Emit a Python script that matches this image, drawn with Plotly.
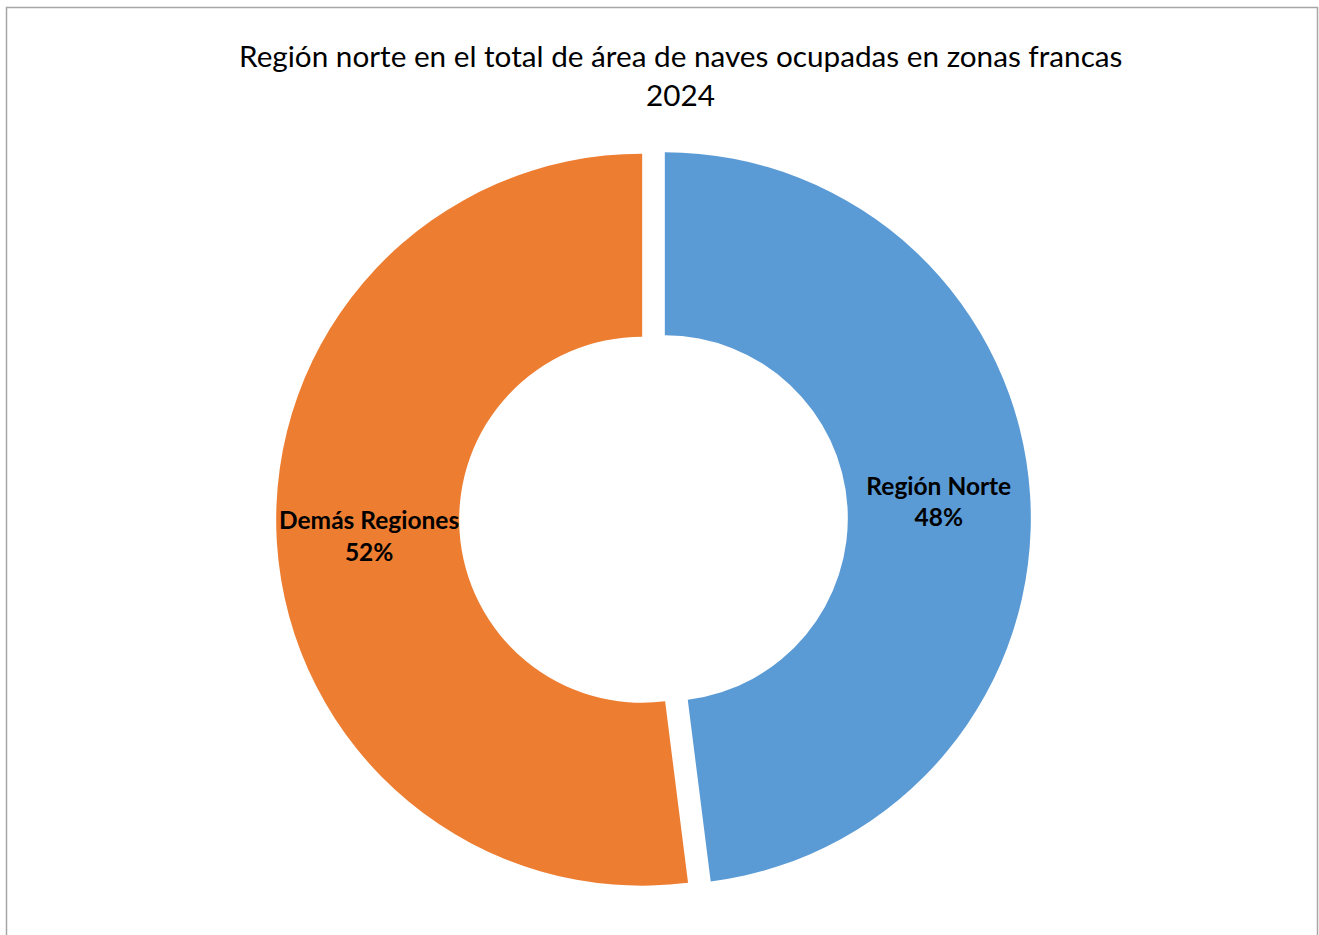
import plotly.graph_objects as go

labels = ["Región Norte", "Demás Regiones"]
values = [48, 52]
colors = ["#5B9BD5", "#ED7D31"]
title_lines = ["Región norte en el total de área de naves ocupadas en zonas francas", "2024"]

W, H = 1319, 935
cx, cy = 653.5, 519.0
pull = 0.031
r = 366.0
box = 2 * r * (1 + pull)
x0, x1 = (cx - box / 2) / W, (cx + box / 2) / W
y0, y1 = 1 - (cy + box / 2) / H, 1 - (cy - box / 2) / H

fig = go.Figure(go.Pie(
    labels=labels,
    values=values,
    marker=dict(colors=colors, line=dict(width=0)),
    hole=0.5,
    sort=False,
    direction="clockwise",
    rotation=0,
    pull=[pull, pull],
    textposition="inside",
    insidetextorientation="horizontal",
    texttemplate=["<b>%{label}</b><br><b>%{percent:.0%}</b>",
                  "\u00a0<br><b>%{label}</b><br><b>%{percent:.0%}</b>"],
    textfont=dict(family="Lato, Open Sans, sans-serif", size=24.5, color="#000000"),
    domain=dict(x=[x0, x1], y=[y0, y1]),
    showlegend=False,
    hoverinfo="label+percent",
))

fig.update_layout(
    width=W, height=H,
    margin=dict(l=0, r=0, t=0, b=0),
    paper_bgcolor="white",
    plot_bgcolor="white",
    uniformtext=dict(minsize=24.5, mode="show"),
    shapes=[dict(type="rect", xref="paper", yref="paper",
                 x0=6.5 / W, x1=1317.5 / W, y0=-0.05, y1=1 - 7.5 / H,
                 line=dict(color="#A6A6A6", width=1.5), fillcolor="rgba(0,0,0,0)", layer="below")],
    annotations=[
        dict(text=title_lines[0], x=680 / W, y=1 - 55 / H, xref="paper", yref="paper",
             showarrow=False, xanchor="center", yanchor="middle",
             font=dict(family="Lato, Open Sans, sans-serif", size=29.7, color="#000000")),
        dict(text=title_lines[1], x=680 / W, y=1 - 95 / H, xref="paper", yref="paper",
             showarrow=False, xanchor="center", yanchor="middle",
             font=dict(family="Lato, Open Sans, sans-serif", size=29.7, color="#000000")),
    ],
)

fig.write_html("out.html", config={"displayModeBar": False},
               post_script="document.body.style.margin='0';")
